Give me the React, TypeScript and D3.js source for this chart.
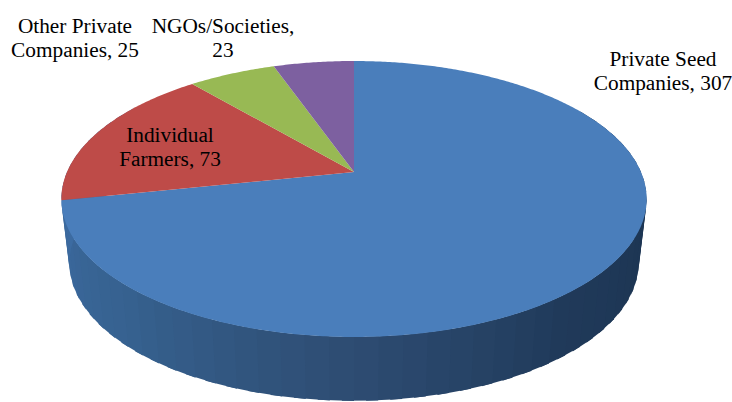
import React from "react";
import * as d3 from "d3";

const categories = ["Private Seed Companies", "Individual Farmers", "Other Private Companies", "NGOs/Societies"];
const values = [307, 73, 25, 23];
const sliceColors = ["#4a7ebb", "#be4b48", "#98b954", "#7d60a0"];
const labelLines = [
  ["Private Seed", "Companies, 307"],
  ["Individual", "Farmers, 73"],
  ["Other Private", "Companies, 25"],
  ["NGOs/Societies,", "23"],
];
const labelAnchors = [
  [663, 66],
  [170, 142],
  [75, 33],
  [223, 33],
];

const WIDTH = 732;
const HEIGHT = 402;

// Tilted disc: a circle seen in perspective, so its hub sits above the ellipse centre.
const CX = 354;
const HUB_Y = 172;
const RX = 287;
const RY = 132.7;
const TILT = 0.1956;
const DEPTH = 64;
const BASE_SCALE = 0.973;

type Pt = [number, number];

function rim(theta: number): Pt {
  const u = Math.sin(theta);
  const v = -Math.cos(theta);
  const d = 1 - TILT * v;
  return [CX + (RX * u) / d, HUB_Y + (RY * v) / d];
}

function baseRim(theta: number): Pt {
  const [x, y] = rim(theta);
  return [CX + (x - CX) * BASE_SCALE, y + DEPTH];
}

const pie = d3.pie<number>().sort(null).startAngle(0).endAngle(2 * Math.PI);
const arcs = pie(values);
const line = d3.line<Pt>();

function wedgePath(a0: number, a1: number): string {
  const steps = Math.max(2, Math.ceil((a1 - a0) / 0.01));
  const pts: Pt[] = [[CX, HUB_Y]];
  for (let i = 0; i <= steps; i++) pts.push(rim(a0 + ((a1 - a0) * i) / steps));
  return line(pts) + "Z";
}

// Outer wall of the disc, lit from the left and falling to dark navy on the right.
const wallShade = d3
  .scaleLinear<string>()
  .domain([270, 220, 180, 140, 90].map((d) => (d * Math.PI) / 180))
  .range(["#3d6ca3", "#36618f", "#2e4d73", "#203a5a", "#1b3350"])
  .clamp(true);

// Bands are painted right to left, each one running under its neighbour to hide seams.
const wallAngles = d3.range(60, 300, 4).map((d) => (d * Math.PI) / 180);
const wallSpan = (6 * Math.PI) / 180;

export default function App() {
  return (
    <svg
      width={WIDTH}
      height={HEIGHT}
      viewBox={`0 0 ${WIDTH} ${HEIGHT}`}
      style={{ position: "absolute", left: 0, top: 0, background: "#fff" }}
    >
      <g>
        {wallAngles.map((a) => (
          <path
            key={a}
            d={line([rim(a), rim(a + wallSpan), baseRim(a + wallSpan), baseRim(a)]) + "Z"}
            fill={wallShade(a)}
          />
        ))}
      </g>
      <g>
        {arcs.map((arc, i) => (
          <path key={categories[i]} d={wedgePath(arc.startAngle, arc.endAngle)} fill={sliceColors[i]} />
        ))}
      </g>
      <g fontFamily="'Liberation Serif', serif" fontSize={21.3} fill="#000" textAnchor="middle">
        {labelLines.map((lines, i) => (
          <text key={categories[i]} x={labelAnchors[i][0]} y={labelAnchors[i][1]}>
            {lines.map((t, j) => (
              <tspan key={t} x={labelAnchors[i][0]} dy={j === 0 ? 0 : 24}>
                {t}
              </tspan>
            ))}
          </text>
        ))}
      </g>
    </svg>
  );
}
